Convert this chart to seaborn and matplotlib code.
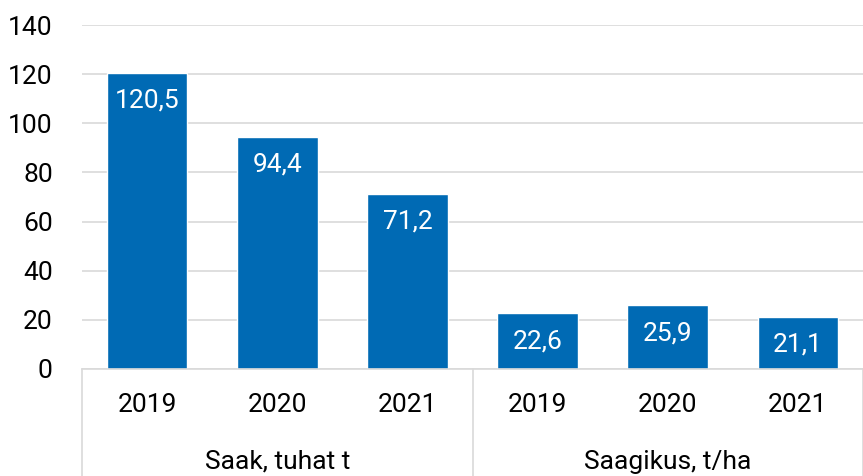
import matplotlib
matplotlib.use("Agg")
import matplotlib.pyplot as plt
import matplotlib.transforms as mtransforms
import seaborn as sns
import pandas as pd

# Data
groups = ["Saak, tuhat t", "Saagikus, t/ha"]
years = ["2019", "2020", "2021"]
saak = [120.5, 94.4, 71.2]
saagikus = [22.6, 25.9, 21.1]
yticks = [0, 20, 40, 60, 80, 100, 120, 140]

rows = []
for g, vals in zip(groups, [saak, saagikus]):
    for y, v in zip(years, vals):
        rows.append({"key": f"{g} {y}", "group": g, "year": y, "value": v})
df = pd.DataFrame(rows)

sns.set_theme(style="white")
plt.rcParams["font.family"] = ["Roboto", "DejaVu Sans"]

BAR = "#006AB4"
GRID = "#D9D9D9"
FS = 19

fig = plt.figure(figsize=(8.63, 4.76), dpi=100)
ax = fig.add_axes([82 / 863, 1 - 369 / 476, 1 - 82 / 863, (369 - 25) / 476])

sns.barplot(data=df, x="key", y="value", color=BAR, width=0.62,
            saturation=1, ax=ax, errorbar=None)

ax.set_ylim(0, 140)
ax.set_xlim(-0.5, len(df) - 0.5)
ax.set_yticks(yticks)
ax.set_yticklabels([str(t) for t in yticks], fontsize=FS, color="#000000")
ax.set_xticks(range(len(df)))
ax.set_xticklabels(df["year"], fontsize=FS, color="#000000")
ax.tick_params(axis="y", length=0, pad=21)
ax.tick_params(axis="x", length=0, pad=17)
ax.set_xlabel("")
ax.set_ylabel("")

ax.yaxis.grid(True, color=GRID, linewidth=1.2)
ax.set_axisbelow(True)
for s in ["left", "right", "top"]:
    ax.spines[s].set_visible(False)
ax.spines["bottom"].set_color(GRID)
ax.spines["bottom"].set_linewidth(1.2)

# Value labels inside bars
for patch, v in zip(ax.patches, df["value"]):
    x = patch.get_x() + patch.get_width() / 2
    h = patch.get_height()
    ax.annotate(f"{v:.1f}".replace(".", ","), (x, h), xytext=(0, -20),
                textcoords="offset points", ha="center", va="center",
                color="white", fontsize=FS)

# Group separators and labels
trans = mtransforms.blended_transform_factory(ax.transData, fig.transFigure)
y0 = 1 - 369 / 476
for xs in [-0.5, 2.5, 5.5]:
    ax.plot([xs, xs], [y0, 0], transform=trans, color=GRID, linewidth=1.2,
            clip_on=False)
n = len(years)
for i, g in enumerate(groups):
    xc = i * n + (n - 1) / 2
    ax.text(xc, 1 - 462 / 476, g, transform=trans, ha="center", va="center",
            fontsize=FS, color="#000000")

fig.savefig("out.png", dpi=100)
